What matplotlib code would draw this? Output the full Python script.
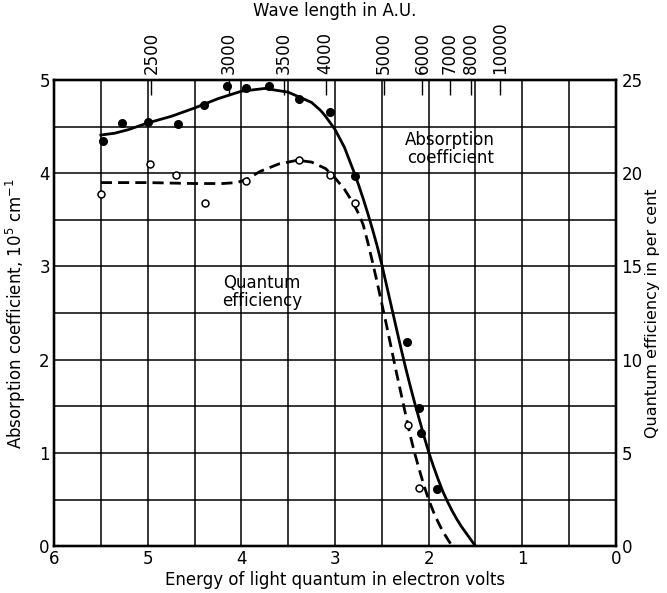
import numpy as np
import matplotlib
matplotlib.use("Agg")
import matplotlib.pyplot as plt

plt.rcParams['font.family'] = ['DejaVu Sans']

# Absorption coefficient measured points (filled dots), energy in eV, 10^5 cm^-1
abs_pts_E = [5.48, 5.27, 5.00, 4.68, 4.40, 4.15, 3.95, 3.70, 3.38, 3.05, 2.79, 2.23, 2.10, 2.085, 1.91]
abs_pts_A = [4.35, 4.54, 4.55, 4.53, 4.73, 4.94, 4.91, 4.94, 4.80, 4.66, 3.97, 2.19, 1.48, 1.21, 0.61]

# Absorption coefficient smooth curve (solid)
abs_curve_E = [5.5, 5.35, 5.2, 5.0, 4.75, 4.5, 4.25, 4.0, 3.75, 3.5, 3.25, 3.15, 3.1, 3.0, 2.9,
               2.8, 2.75, 2.7, 2.65, 2.6, 2.55, 2.5, 2.45, 2.4, 2.35, 2.3, 2.25, 2.2, 2.15,
               2.1, 2.05, 2.0, 1.95, 1.9, 1.85, 1.8, 1.75, 1.7, 1.65, 1.6, 1.55, 1.5]
abs_curve_A = [4.41, 4.43, 4.47, 4.54, 4.61, 4.70, 4.80, 4.88, 4.91, 4.87, 4.76, 4.67, 4.61, 4.47, 4.28,
               4.02, 3.88, 3.73, 3.57, 3.40, 3.22, 3.02, 2.80, 2.58, 2.36, 2.14, 1.93, 1.73, 1.54,
               1.36, 1.18, 1.01, 0.86, 0.72, 0.59, 0.48, 0.38, 0.29, 0.21, 0.14, 0.07, 0.0]

# Quantum efficiency measured points (open circles), per cent
qe_pts_E = [5.50, 4.97, 4.70, 4.39, 3.95, 3.38, 3.05, 2.79, 2.22, 2.10]
qe_pts_Q = [18.9, 20.5, 19.9, 18.4, 19.6, 20.7, 19.9, 18.4, 6.5, 3.1]

# Quantum efficiency smooth curve (dashed), per cent
qe_curve_E = [5.5, 5.0, 4.5, 4.2, 4.05, 3.95, 3.8, 3.6, 3.4, 3.25, 3.1, 3.0, 2.9, 2.85, 2.8,
              2.75, 2.7, 2.65, 2.6, 2.55, 2.5, 2.45, 2.4, 2.35, 2.3, 2.25, 2.2, 2.15, 2.1,
              2.05, 2.0, 1.95, 1.9, 1.85, 1.8, 1.75]
qe_curve_Q = [19.5, 19.5, 19.45, 19.45, 19.5, 19.65, 20.1, 20.5, 20.7, 20.6, 20.25, 19.75, 19.15, 18.75, 18.35,
              17.85, 17.25, 16.3, 15.25, 14.15, 13.0, 11.85, 10.65, 9.45, 8.3, 7.15, 6.0, 5.0, 4.1,
              3.25, 2.5, 1.85, 1.3, 0.8, 0.4, 0.0]

# Top axis: wavelength ticks in Angstrom units
wl_ticks = [2500, 3000, 3500, 4000, 5000, 6000, 7000, 8000, 10000]

energy_ticks = [6, 5, 4, 3, 2, 1, 0]
abs_ticks = [0, 1, 2, 3, 4, 5]
qe_ticks = [0, 5, 10, 15, 20, 25]

fig = plt.figure(figsize=(6.67, 5.93), dpi=100)
ax = fig.add_axes([0.081, 0.079, 0.8425, 0.786])

ax.set_xlim(6, 0)
ax.set_ylim(0, 5)
ax.set_xticks(energy_ticks)
ax.set_yticks(abs_ticks)
ax.set_xticks(np.arange(0.5, 6, 0.5), minor=True)
ax.set_yticks(np.arange(0.5, 5, 0.5), minor=True)
ax.grid(True, which='both', color='black', linewidth=1.1)
ax.set_axisbelow(True)
ax.tick_params(which='both', length=0, labelsize=12, pad=3)
for s in ax.spines.values():
    s.set_linewidth(1.6)

ax.plot(abs_curve_E, abs_curve_A, color='black', linewidth=2.0, zorder=3,
        solid_joinstyle='round')
ax.plot(abs_pts_E, abs_pts_A, 'o', color='black', markersize=5.5, zorder=4)

ax.set_xlabel('Energy of light quantum in electron volts', fontsize=12, labelpad=2)
ax.set_ylabel('Absorption coefficient, 10$^5$ cm$^{-1}$', fontsize=12, labelpad=8)

ax.text(1.77, 4.26, 'Absorption\ncoefficient', ha='center', va='center', fontsize=12,
        linespacing=1.0, zorder=5)
ax.text(3.78, 2.73, 'Quantum\nefficiency', ha='center', va='center', fontsize=12,
        linespacing=1.0, zorder=5)

# Right axis: quantum efficiency
ax2 = ax.twinx()
ax2.set_ylim(0, 25)
ax2.set_yticks(qe_ticks)
ax2.tick_params(length=0, labelsize=12, pad=4)
ax2.plot(qe_curve_E, qe_curve_Q, color='black', linewidth=2.0, dashes=(4, 2.2), zorder=3)
ax2.plot(qe_pts_E, qe_pts_Q, 'o', markerfacecolor='white', markeredgecolor='black',
         markersize=5, markeredgewidth=1.1, zorder=4)
ax2.set_ylabel('Quantum efficiency in per cent', fontsize=11.5, labelpad=2)
for s in ax2.spines.values():
    s.set_linewidth(1.6)

# Top axis: wavelength
ax3 = ax.twiny()
ax3.set_xlim(6, 0)
ax3.set_xticks([12400.0 / w for w in wl_ticks])
ax3.set_xticklabels([str(w) for w in wl_ticks], rotation=90)
ax3.tick_params(direction='in', length=11, width=1.0, labelsize=12, pad=4)
ax3.set_xlabel('Wave length in A.U.', fontsize=12, labelpad=4)
for s in ax3.spines.values():
    s.set_linewidth(1.6)

fig.savefig('out.png', dpi=100)
